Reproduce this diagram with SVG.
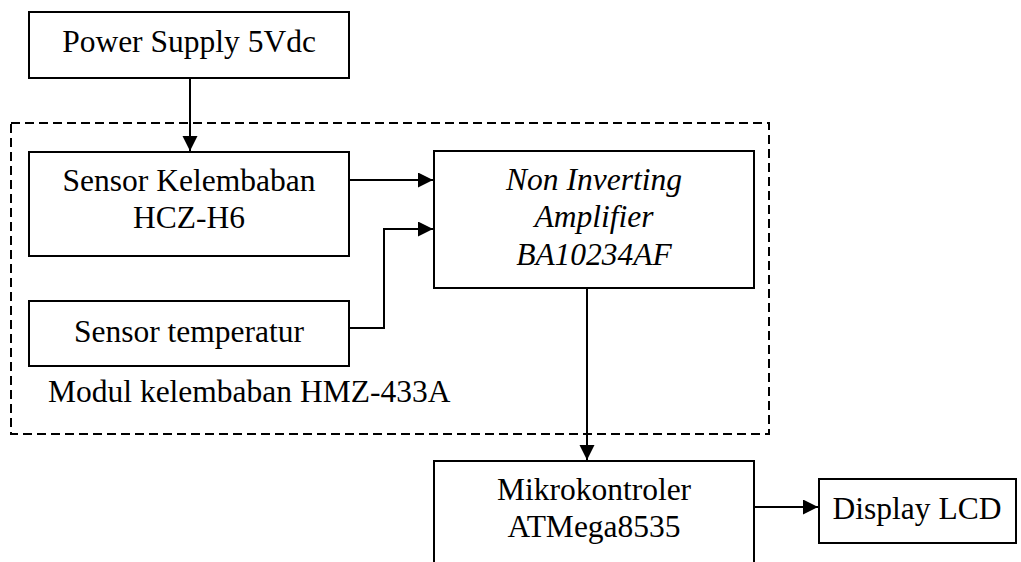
<svg xmlns="http://www.w3.org/2000/svg" width="1021" height="562" viewBox="0 0 1021 562">
<style>
.box{fill:#fff;stroke:#000;stroke-width:2}
text{font-family:'Liberation Serif','Tinos','DejaVu Serif','Noto Serif',serif;font-size:31.5px;fill:#000;text-anchor:middle}
.i{font-style:italic}
.c{fill:none;stroke:#000;stroke-width:2}
.dash{fill:none;stroke:#000;stroke-width:2;stroke-dasharray:9,5}
</style>
<defs>
<marker id="ah" markerUnits="userSpaceOnUse" markerWidth="16" markerHeight="16" refX="15" refY="7.5" orient="auto">
<path d="M0,0 L15,7.5 L0,15 Z" fill="#000"/>
</marker>
</defs>
<g id="module">
<rect class="dash" x="11" y="123" width="758" height="311"/>
<text x="48" y="402" text-anchor="start" style="text-anchor:start">Modul kelembaban HMZ-433A</text>
</g>
<g id="power">
<rect class="box" x="29" y="12" width="320" height="66"/>
<text x="189" y="52">Power Supply 5Vdc</text>
</g>
<g id="sensor-kelembaban">
<rect class="box" x="29" y="152" width="320" height="104"/>
<text x="189" y="191">Sensor Kelembaban</text>
<text x="189" y="228">HCZ-H6</text>
</g>
<g id="sensor-temperatur">
<rect class="box" x="29" y="301" width="320" height="65"/>
<text x="189" y="342">Sensor temperatur</text>
</g>
<g id="amplifier">
<rect class="box" x="434" y="151" width="320" height="137"/>
<text class="i" x="594" y="190">Non Inverting</text>
<text class="i" x="594" y="227">Amplifier</text>
<text class="i" x="594" y="265">BA10234AF</text>
</g>
<g id="mikrokontroler">
<rect class="box" x="434" y="461" width="320" height="120"/>
<text x="594" y="500">Mikrokontroler</text>
<text x="594" y="537">ATMega8535</text>
</g>
<g id="display">
<rect class="box" x="819" y="479" width="197" height="64"/>
<text x="917" y="519">Display LCD</text>
</g>
<g id="connectors">
<path class="c" d="M190,78 V151" marker-end="url(#ah)"/>
<path class="c" d="M349,180 H433" marker-end="url(#ah)"/>
<path class="c" d="M349,328 H384 V229 H433" marker-end="url(#ah)"/>
<path class="c" d="M587,288 V460" marker-end="url(#ah)"/>
<path class="c" d="M754,507 H818" marker-end="url(#ah)"/>
</g>
</svg>
